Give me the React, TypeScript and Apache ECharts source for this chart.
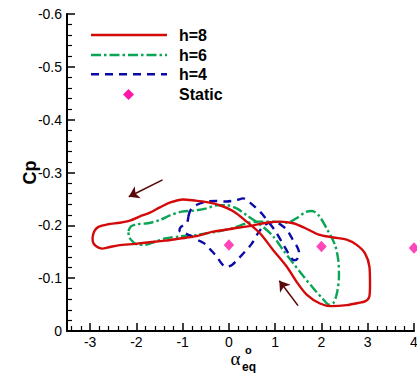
import React, { useEffect, useRef } from "react";
import * as echarts from "echarts";

// Axis ticks
const xTicks = [-3, -2, -1, 0, 1, 2, 3, 4];
const xMinorTicks: number[] = [];
for (let i = -17; i <= 19; i++) {
  if (i % 5 !== 0) xMinorTicks.push(Math.round(i * 2) / 10);
}

// Hysteresis loops: [alpha_eq, Cp]
const h8: number[][] = [
  [-2.947, -0.178], [-2.908, -0.189], [-2.822, -0.197], [-2.616, -0.202], [-2.357, -0.205],
  [-2.141, -0.209], [-1.924, -0.217], [-1.708, -0.224], [-1.492, -0.234], [-1.276, -0.243],
  [-0.995, -0.249], [-0.735, -0.247], [-0.476, -0.244], [-0.195, -0.238], [0.086, -0.227],
  [0.383, -0.207], [0.67, -0.185], [0.958, -0.153], [1.248, -0.122], [1.464, -0.093],
  [1.68, -0.069], [1.968, -0.052], [2.221, -0.047], [2.545, -0.049], [2.789, -0.053],
  [2.941, -0.056], [3.034, -0.065], [3.049, -0.087], [3.038, -0.121], [2.941, -0.147],
  [2.761, -0.163], [2.545, -0.173], [2.255, -0.177], [1.924, -0.183], [1.643, -0.195],
  [1.39, -0.204], [1.103, -0.207], [0.815, -0.205], [0.525, -0.2], [0.093, -0.194],
  [-0.339, -0.188], [-0.735, -0.179], [-1.059, -0.175], [-1.384, -0.171], [-1.708, -0.168],
  [-2.032, -0.165], [-2.394, -0.162], [-2.573, -0.159], [-2.746, -0.156], [-2.876, -0.161],
  [-2.941, -0.169], [-2.947, -0.178],
];

const h6: number[][] = [
  [-2.173, -0.189], [-2.119, -0.198], [-1.989, -0.202], [-1.751, -0.204], [-1.492, -0.21],
  [-1.276, -0.219], [-1.016, -0.226], [-0.735, -0.228], [-0.482, -0.232], [-0.266, -0.238],
  [-0.05, -0.238], [0.166, -0.232], [0.383, -0.219], [0.67, -0.202], [0.958, -0.179],
  [1.174, -0.153], [1.39, -0.128], [1.606, -0.104], [1.823, -0.081], [2.039, -0.06],
  [2.162, -0.05], [2.259, -0.053], [2.335, -0.072], [2.378, -0.103], [2.363, -0.134],
  [2.292, -0.163], [2.119, -0.193], [1.946, -0.218], [1.795, -0.227], [1.654, -0.225],
  [1.47, -0.214], [1.254, -0.205], [0.958, -0.207], [0.67, -0.207], [0.383, -0.204],
  [0.093, -0.195], [-0.266, -0.188], [-0.698, -0.182], [-1.059, -0.179], [-1.384, -0.175],
  [-1.6, -0.169], [-1.816, -0.163], [-1.961, -0.163], [-2.076, -0.169], [-2.157, -0.178],
  [-2.173, -0.189],
];

const h4: number[][] = [
  [-0.876, -0.217], [-0.822, -0.23], [-0.692, -0.239], [-0.482, -0.245], [-0.281, -0.246],
  [-0.05, -0.245], [0.166, -0.248], [0.309, -0.251], [0.454, -0.243], [0.584, -0.233],
  [0.714, -0.222], [0.822, -0.21], [0.973, -0.193], [1.139, -0.169], [1.232, -0.155],
  [1.319, -0.142], [1.405, -0.134], [1.492, -0.138], [1.514, -0.15], [1.464, -0.161],
  [1.373, -0.174], [1.254, -0.191], [1.103, -0.202], [0.951, -0.206], [0.778, -0.201],
  [0.649, -0.188], [0.491, -0.165], [0.324, -0.148], [0.195, -0.136], [0.065, -0.125],
  [-0.065, -0.121], [-0.151, -0.127], [-0.266, -0.141], [-0.389, -0.153], [-0.519, -0.165],
  [-0.67, -0.172], [-0.822, -0.18], [-0.951, -0.185], [-1.07, -0.19], [-1.038, -0.197],
  [-0.908, -0.205], [-0.876, -0.217],
];

// Static values
const staticAlpha = [0, 2, 4];
const staticCp = [-0.163, -0.16, -0.157];

// Direction arrows: [tail, head]
const arrowUpper = [[-1.435, -0.286], [-2.165, -0.254]];
const arrowLower = [[1.494, -0.048], [1.089, -0.095]];

const RED = "#d40a0a";
const GREEN = "#0aa555";
const BLUE = "#0a0aa8";
const PINK = "#ff18a8";
const ARROW = "#5a0808";
const FONT = "'Liberation Sans', Arial, Helvetica, sans-serif";

export default function App() {
  const ref = useRef<HTMLDivElement>(null);

  useEffect(() => {
    if (!ref.current) return;
    const chart = echarts.init(ref.current, undefined, { renderer: "svg" });

    const axisCommon = {
      type: "value" as const,
      splitLine: { show: false },
    };

    chart.setOption({
      animation: false,
      backgroundColor: "#ffffff",
      grid: {
        left: 67,
        right: 3,
        top: 14,
        bottom: 42,
        containLabel: false,
        outerBoundsMode: "none",
      },
      xAxis: [
        {
          ...axisCommon,
          min: -3.5,
          max: 4,
          position: "bottom",
          axisLine: { show: true, onZero: false, lineStyle: { color: "#000", width: 2 } },
          axisTick: {
            show: true,
            inside: true,
            length: 8,
            customValues: xTicks,
            lineStyle: { color: "#000", width: 1.5 },
          },
          axisLabel: {
            show: true,
            customValues: xTicks,
            margin: 4,
            color: "#000",
            fontSize: 14,
            fontFamily: FONT,
            formatter: (v: number) => String(v),
          },
        },
        {
          ...axisCommon,
          min: -3.5,
          max: 4,
          position: "bottom",
          axisLine: { show: false },
          axisLabel: { show: false },
          axisTick: {
            show: true,
            inside: true,
            length: 5,
            customValues: xMinorTicks,
            lineStyle: { color: "#000", width: 1.2 },
          },
        },
      ],
      yAxis: {
        ...axisCommon,
        inverse: true,
        min: -0.6,
        max: 0,
        interval: 0.1,
        axisLine: { show: true, onZero: false, lineStyle: { color: "#000", width: 2 } },
        axisTick: { show: true, inside: true, length: 8, lineStyle: { color: "#000", width: 1.5 } },
        minorTick: { show: true, splitNumber: 5, length: 5, lineStyle: { color: "#000", width: 1.2 } },
        axisLabel: {
          margin: 5,
          color: "#000",
          fontSize: 14,
          fontFamily: FONT,
          formatter: (v: number) => (Math.abs(v) < 1e-9 ? "0" : v.toFixed(1)),
        },
      },
      series: [
        {
          name: "h=8",
          type: "line",
          data: h8,
          showSymbol: false,
          smooth: 0.3,
          lineStyle: { color: RED, width: 2.4 },
          z: 3,
        },
        {
          name: "h=6",
          type: "line",
          data: h6,
          showSymbol: false,
          smooth: 0.3,
          lineStyle: { color: GREEN, width: 2.4, type: [10, 3, 2.5, 3] },
          z: 2,
        },
        {
          name: "h=4",
          type: "line",
          data: h4,
          showSymbol: false,
          smooth: 0.3,
          lineStyle: { color: BLUE, width: 2.4, type: [8, 6] },
          z: 2,
        },
        {
          name: "Static",
          type: "scatter",
          data: staticAlpha.map((a, i) => [a, staticCp[i]]),
          symbol: "diamond",
          symbolSize: [10.5, 11.5],
          itemStyle: { color: PINK },
          clip: false,
          z: 4,
        },
        {
          name: "arrows",
          type: "lines",
          coordinateSystem: "cartesian2d",
          data: [{ coords: arrowUpper }, { coords: arrowLower }],
          symbol: ["none", "arrow"],
          symbolSize: 10,
          lineStyle: { color: ARROW, width: 1.6, opacity: 1 },
          z: 4,
        },
      ],
      graphic: [
        // Legend
        { type: "line", shape: { x1: 91, y1: 35, x2: 167, y2: 35 }, style: { stroke: RED, lineWidth: 2.4 } },
        {
          type: "line",
          shape: { x1: 91, y1: 55, x2: 167, y2: 55 },
          style: { stroke: GREEN, lineWidth: 2.4, lineDash: [10, 3, 2.5, 3] },
        },
        {
          type: "line",
          shape: { x1: 91, y1: 74.3, x2: 167, y2: 74.3 },
          style: { stroke: BLUE, lineWidth: 2.4, lineDash: [8, 6] },
        },
        {
          type: "polygon",
          shape: { points: [[128.5, 89], [134, 94.5], [128.5, 100], [123, 94.5]] },
          style: { fill: PINK },
        },
        {
          type: "text",
          x: 179,
          y: 35.5,
          style: { text: "h=8", font: `bold 16px ${FONT}`, fill: "#000", verticalAlign: "middle" },
        },
        {
          type: "text",
          x: 179,
          y: 55.5,
          style: { text: "h=6", font: `bold 16px ${FONT}`, fill: "#000", verticalAlign: "middle" },
        },
        {
          type: "text",
          x: 179,
          y: 74.5,
          style: { text: "h=4", font: `bold 16px ${FONT}`, fill: "#000", verticalAlign: "middle" },
        },
        {
          type: "text",
          x: 179,
          y: 94.5,
          style: { text: "Static", font: `bold 16px ${FONT}`, fill: "#000", verticalAlign: "middle" },
        },
        // Axis titles
        {
          type: "text",
          x: 30,
          y: 172.5,
          rotation: Math.PI / 2,
          style: {
            text: "Cp",
            font: `bold 18px ${FONT}`,
            fill: "#000",
            align: "center",
            verticalAlign: "middle",
          },
        },
        {
          type: "text",
          x: 235.5,
          y: 358,
          style: {
            text: "α",
            font: `19px 'Liberation Serif', 'DejaVu Serif', serif`,
            fill: "#000",
            align: "center",
            verticalAlign: "middle",
          },
        },
        {
          type: "text",
          x: 242,
          y: 367,
          style: { text: "eq", font: `bold 12px ${FONT}`, fill: "#000", verticalAlign: "middle" },
        },
        {
          type: "text",
          x: 248.3,
          y: 350,
          style: {
            text: "o",
            font: `bold 11px ${FONT}`,
            fill: "#000",
            align: "center",
            verticalAlign: "middle",
          },
        },
      ],
    });

    return () => chart.dispose();
  }, []);

  return (
    <div
      ref={ref}
      style={{ position: "absolute", left: 0, top: 0, width: 417, height: 373 }}
    />
  );
}
